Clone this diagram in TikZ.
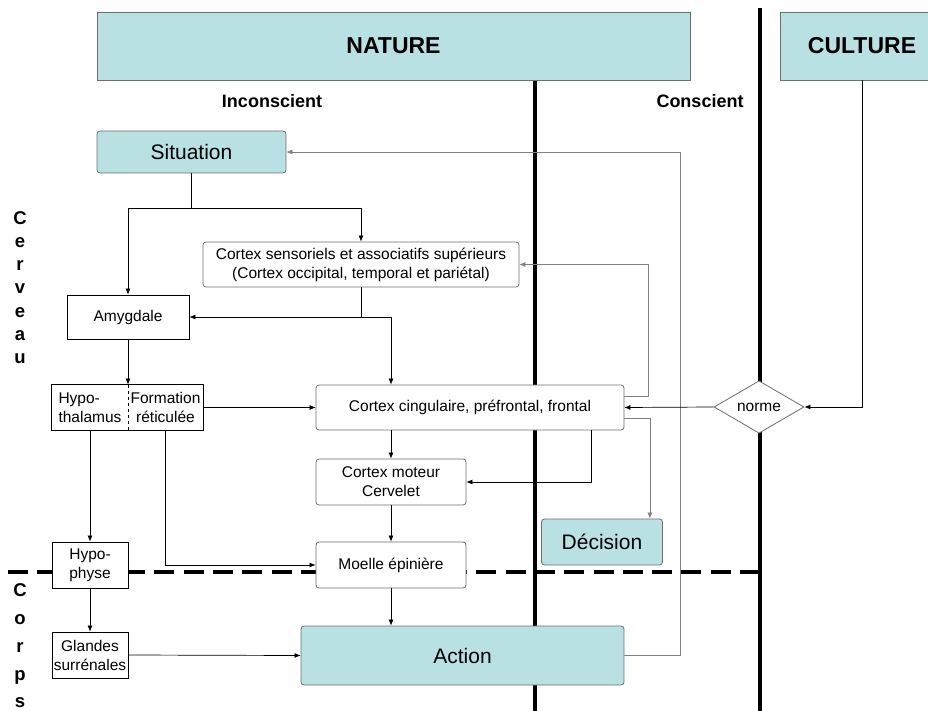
\documentclass[tikz,border=0pt]{standalone}
\usepackage{fontspec}
\setmainfont{Liberation Sans}
\usetikzlibrary{shapes.geometric,calc,arrows.meta}
\definecolor{lblue}{RGB}{185,224,227}
\definecolor{bgray}{RGB}{110,110,110}
\definecolor{lgray}{RGB}{128,128,128}
\begin{document}
\begin{tikzpicture}[x=1pt,y=-1pt,
  box/.style={draw=bgray, fill=white, rounded corners=3pt, inner sep=0pt, align=center, line width=0.8pt, font=\fontsize{15.5}{19}\selectfont},
  bluebox/.style={box, fill=lblue, font=\fontsize{21}{25}\selectfont},
  headbox/.style={box, fill=lblue, rounded corners=0pt, font=\fontsize{23}{27}\selectfont\bfseries},
  sqbox/.style={box, draw=black, rounded corners=0pt},
  title/.style={inner sep=0pt, font=\fontsize{18}{22}\selectfont\bfseries},
  letters/.style={inner sep=0pt, align=center, font=\fontsize{18.5}{23.2}\selectfont\bfseries},
  arr/.style={-{Latex[length=6pt,width=5pt]}, line width=0.7pt, draw=black},
  garr/.style={arr, draw=lgray},
  sep/.style={line width=4pt}
]
\useasboundingbox (0,0) rectangle (928,711);
% separators
\draw[sep] (760,8) -- (760,711);
\draw[sep] (535,80) -- (535,711);
\draw[sep, dash pattern=on 20pt off 9.28pt] (8,572) -- (760,572);

% headers
\node[headbox, minimum width=593, minimum height=68] (nature) at (393.5,46) {NATURE};
\node[headbox, minimum width=164, minimum height=68] (culture) at (862,46) {CULTURE};
\node[title] (incons) at (272,101) {Inconscient};
\node[title] (cons) at (700,101) {Conscient};

% side labels
\node[letters] (cerveau) at (20,287.5) {C\\e\\r\\v\\e\\a\\u};
\node[letters, font=\fontsize{18.5}{27.8}\selectfont\bfseries] (corps) at (20,646) {C\\o\\r\\p\\s};

% nodes
\node[bluebox, minimum width=189, minimum height=42] (sit) at (191.5,152) {Situation};
\node[box, minimum width=316, minimum height=45] (cortsens) at (361,264.5) {Cortex sensoriels et associatifs supérieurs\\(Cortex occipital, temporal et pariétal)};
\node[sqbox, minimum width=122, minimum height=44] (amyg) at (128,317) {Amygdale};
\node[box, draw=none, fill=none, align=left, minimum width=76, minimum height=45] (hypo) at (90,407.5) {Hypo-\\thalamus};
\node[box, draw=none, fill=none, minimum width=75, minimum height=45] (form) at (165.5,407.5) {Formation\\réticulée};
\draw[black, line width=0.8pt] (hypo.north west) rectangle (form.south east);
\draw[black, line width=0.6pt, dashed] (hypo.north east) -- (hypo.south east);
\node[box, minimum width=308, minimum height=45] (cortcing) at (470,407.5) {Cortex cingulaire, préfrontal, frontal};
\node[box, minimum width=150, minimum height=46] (cortmot) at (391,482) {Cortex moteur\\Cervelet};
\node[box, minimum width=150, minimum height=46] (moelle) at (391,565) {Moelle épinière};
\node[sqbox, minimum width=76, minimum height=46] (hypoph) at (90,565) {Hypo-\\physe};
\node[sqbox, minimum width=76, minimum height=46] (gland) at (90,655) {Glandes\\surrénales};
\node[bluebox, minimum width=323, minimum height=59] (action) at (462.5,655.5) {Action};
\node[bluebox, minimum width=121, minimum height=46] (decision) at (602,542) {Décision};
\node[diamond, draw=bgray, fill=white, line width=0.8pt, inner sep=0pt, minimum width=90, minimum height=43, font=\fontsize{15.5}{19}\selectfont] (norme) at (759,407) {norme};

% connectors
\draw[arr] (sit.south) -- ++(0,35) coordinate (j1) -| (amyg.north);
\draw[arr] (j1) -| (cortsens.north);
\draw[arr] (cortsens.south) |- (amyg.east);
\draw[arr] (cortsens.south |- amyg.east) -| (cortmot.north |- cortcing.north);
\draw[arr] (amyg.south) -- (amyg.south |- hypo.north);
\draw[arr] (form.east) -- (cortcing.west);
\draw[arr] (hypo.south) -- (hypoph.north);
\draw[arr] (form.south) |- (moelle.west);
\draw[arr] (cortmot.north |- cortcing.south) -- (cortmot.north);
\draw[arr] ($(cortcing.south east)+(-33,0)$) |- (cortmot.east);
\draw[arr] (cortmot.south) -- (moelle.north);
\draw[arr] (moelle.south) -- (moelle.south |- action.north);
\draw[arr] (hypoph.south) -- (gland.north);
\draw[arr] (gland.east) -- (action.west);
\draw[garr] (action.east) -- ++(56,0) |- (sit.east);
\draw[garr] ($(cortcing.east)+(0,-11)$) -- ++(24,0) |- (cortsens.east);
\draw[garr] ($(cortcing.east)+(0,11)$) -| ($(decision.north east)+(-13,0)$);
\draw[arr] (norme.west) -- (cortcing.east);
\draw[arr] (culture.south) |- (norme.east);
\end{tikzpicture}
\end{document}
